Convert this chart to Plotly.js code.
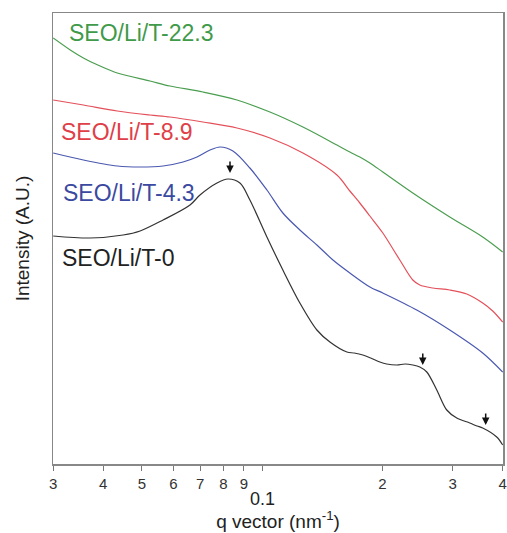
<!DOCTYPE html>
<html>
<head>
<meta charset="utf-8">
<script src="https://cdn.plot.ly/plotly-3.0.1.min.js"></script>
<style>html,body{margin:0;padding:0;background:#fff;}#chart{width:507px;height:533px;}</style>
</head>
<body>
<div id="chart"></div>
<script>
// q vector (nm^-1) and intensity (arbitrary, offset) for each sample
const qGreen = [0.03, 0.0331, 0.0357, 0.0393, 0.0434, 0.0524, 0.0588, 0.0711, 0.0865, 0.1046, 0.1265, 0.1539, 0.1658, 0.1756, 0.1861, 0.2005, 0.2383, 0.2949, 0.3565, 0.4];
const yGreen = [426, 414, 406, 398, 391, 383, 378, 372, 364, 352, 337, 319, 312, 307, 301, 292, 271, 247, 227, 212];

const qRed = [0.03, 0.0357, 0.0434, 0.0524, 0.0588, 0.0711, 0.0865, 0.1046, 0.1265, 0.1539, 0.1658, 0.1756, 0.1861, 0.2005, 0.2211, 0.2383, 0.2481, 0.2674, 0.2949, 0.3252, 0.3565, 0.3777, 0.4];
const yRed = [364, 359, 353, 349, 347, 342, 336, 326, 311, 289, 273, 261, 248, 231, 204, 184, 179, 176, 174, 170, 161, 153, 142];

const qBlue = [0.03, 0.0357, 0.0434, 0.0495, 0.0565, 0.0634, 0.0687, 0.0741, 0.0785, 0.0845, 0.0932, 0.1028, 0.1127, 0.1243, 0.1371, 0.1504, 0.1658, 0.1861, 0.2005, 0.2438, 0.2949, 0.3565, 0.4];
const yBlue = [311, 304, 298, 297, 298, 302, 307, 314, 317, 313, 296, 274, 251, 234, 219, 204, 191, 177, 171, 154, 134, 111, 92];

const qBlack = [0.03, 0.0371, 0.0449, 0.0495, 0.0565, 0.066, 0.0699, 0.0771, 0.0821, 0.088, 0.0932, 0.1028, 0.1127, 0.1243, 0.1371, 0.1478, 0.163, 0.17, 0.1787, 0.187, 0.1971, 0.205, 0.2173, 0.228, 0.2383, 0.2481, 0.2583, 0.2736, 0.2898, 0.307, 0.3309, 0.345, 0.3565, 0.3865, 0.4];
const yBlack = [228, 226, 229, 233, 244, 259, 269, 281, 285, 281, 264, 227, 194, 161, 134, 122, 112, 111, 109, 106, 102, 100, 99, 100, 99, 97, 92, 74, 54, 46, 41, 38, 36, 27, 19];

const seriesNames = ["SEO/Li/T-22.3", "SEO/Li/T-8.9", "SEO/Li/T-4.3", "SEO/Li/T-0"];
const seriesColors = ["#4a9e4f", "#e4505a", "#4a58b0", "#333333"];
const labelColors = ["#3f9a4a", "#df4048", "#3b4aa0", "#222222"];

// peak markers (arrows)
const peakQ = [0.0831, 0.2524, 0.3627];
const peakY = [291, 99, 39];

const tickVals = [0.03, 0.04, 0.05, 0.06, 0.07, 0.08, 0.09, 0.1, 0.2, 0.3, 0.4];
const tickText = ["3", "4", "5", "6", "7", "8", "9", " ", "2", "3", "4"];

const xs = [qGreen, qRed, qBlue, qBlack];
const ys = [yGreen, yRed, yBlue, yBlack];

const traces = xs.map((x, i) => ({
  x: x, y: ys[i], type: "scatter", mode: "lines", name: seriesNames[i],
  line: {color: seriesColors[i], width: 1.2, shape: "spline", smoothing: 0.9},
  showlegend: false, hoverinfo: "skip"
}));

const labelPos = [[0.031, 0.956], [0.013, 0.736], [0.017, 0.601], [0.015, 0.457]];
const annotations = seriesNames.map((n, i) => ({
  text: n, xref: "paper", yref: "paper", x: labelPos[i][0], y: labelPos[i][1],
  xanchor: "left", yanchor: "middle", showarrow: false,
  font: {family: "Liberation Sans, Arial, sans-serif", size: 23, color: labelColors[i]}
}));

peakQ.forEach((q, i) => {
  annotations.push({
    x: Math.log10(q), y: peakY[i], xref: "x", yref: "y", text: " ",
    showarrow: true, arrowhead: 2, arrowsize: 1, arrowwidth: 1.5, arrowcolor: "#111",
    ax: 0, ay: -20
  });
});

annotations.push({
  text: "0.1", xref: "x", yref: "paper", x: -1, y: 0, yshift: -35,
  xanchor: "center", yanchor: "middle", showarrow: false,
  font: {family: "Liberation Sans, Arial, sans-serif", size: 18, color: "#222"}
});

const layout = {
  width: 507, height: 533,
  margin: {l: 53, r: 4, t: 13, b: 69},
  paper_bgcolor: "#fff", plot_bgcolor: "#fff",
  font: {family: "Liberation Sans, Arial, sans-serif", color: "#222"},
  xaxis: {
    type: "log", range: [Math.log10(0.03) - 0.0005, Math.log10(0.4) + 0.0008],
    tickmode: "array", tickvals: tickVals, ticktext: tickText,
    ticks: "outside", ticklen: 5, tickwidth: 1.2, tickcolor: "#777",
    showline: true, linecolor: "#888", linewidth: 1.5, mirror: true,
    showgrid: false, zeroline: false,
    tickfont: {size: 15, color: "#333"},
    title: {text: "q vector (nm<sup>-1</sup>)", font: {size: 19, color: "#222"}, standoff: 24}
  },
  yaxis: {
    range: [0, 451], showticklabels: false, ticks: "",
    showline: true, linecolor: "#888", linewidth: 1.5, mirror: true,
    showgrid: false, zeroline: false,
    title: {text: "Intensity (A.U.)", font: {size: 19, color: "#222"}, standoff: 17}
  },
  annotations: annotations
};

Plotly.newPlot("chart", traces, layout, {staticPlot: true, displayModeBar: false});
</script>
</body>
</html>
